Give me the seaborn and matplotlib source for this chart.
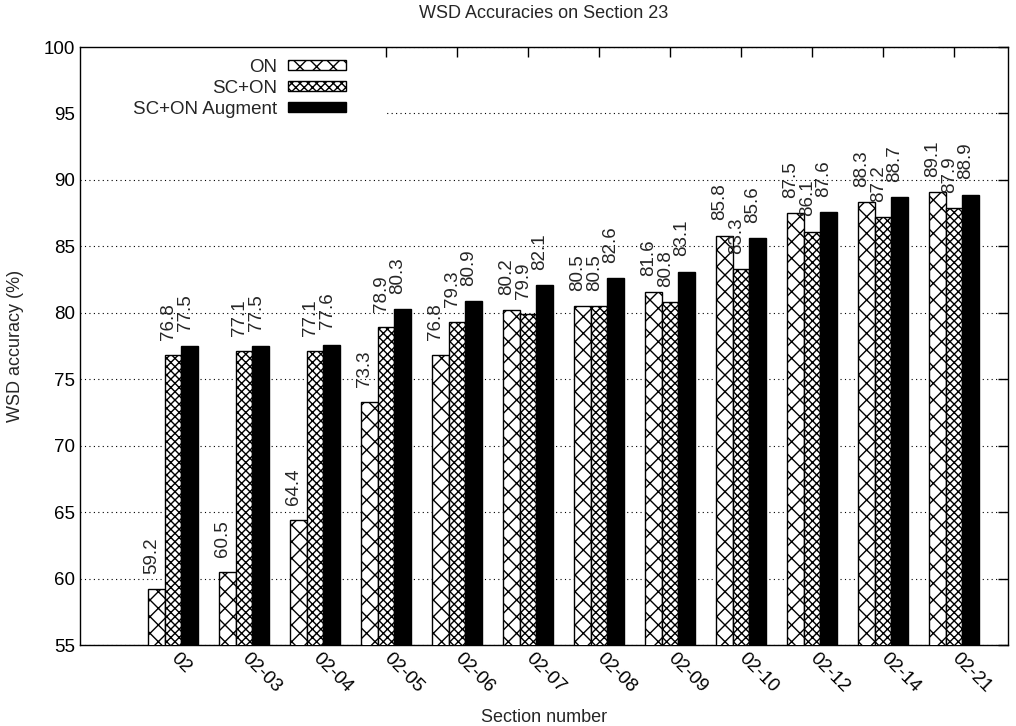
import matplotlib
matplotlib.use("Agg")
import matplotlib.pyplot as plt
from matplotlib.patches import Patch, Rectangle
import seaborn as sns
import pandas as pd

# values
sections = ["02", "02-03", "02-04", "02-05", "02-06", "02-07",
            "02-08", "02-09", "02-10", "02-12", "02-14", "02-21"]
series = ["ON", "SC+ON", "SC+ON Augment"]
on_acc = [59.2, 60.5, 64.4, 73.3, 76.8, 80.2, 80.5, 81.6, 85.8, 87.5, 88.3, 89.1]
sc_on_acc = [76.8, 77.1, 77.1, 78.9, 79.3, 79.9, 80.5, 80.8, 83.3, 86.1, 87.2, 87.9]
aug_acc = [77.5, 77.5, 77.6, 80.3, 80.9, 82.1, 82.6, 83.1, 85.6, 87.6, 88.7, 88.9]
y_ticks = [55, 60, 65, 70, 75, 80, 85, 90, 95, 100]

colors = {"ON": "white", "SC+ON": "white", "SC+ON Augment": "black"}
hatches = {"ON": "xx", "SC+ON": "xxxx", "SC+ON Augment": ""}

df = pd.DataFrame({
    "section": sections * 3,
    "system": [s for s in series for _ in sections],
    "acc": on_acc + sc_on_acc + aug_acc,
})

sns.set_style("white")
plt.rcParams["font.family"] = ["Liberation Sans", "DejaVu Sans"]
plt.rcParams["hatch.linewidth"] = 1.0
plt.rcParams["hatch.color"] = "black"

fig = plt.figure(figsize=(10.16, 7.26), dpi=100)
ax = fig.add_axes([80 / 1016, 81 / 726, 928 / 1016, 598 / 726])

sns.barplot(data=df, x="section", y="acc", hue="system", hue_order=series,
            palette=colors, width=0.7, gap=0, edgecolor="black", linewidth=1,
            legend=False, ax=ax, zorder=3)

for cont, name in zip(ax.containers, series):
    for bar in cont:
        bar.set_hatch(hatches[name])
        x = bar.get_x() + bar.get_width() / 2
        top = bar.get_height()
        ax.annotate(f"{top:.1f}", (x, top), xytext=(0, 11),
                    textcoords="offset points", rotation=90,
                    rotation_mode="anchor", ha="left", va="baseline",
                    fontsize=13.5, zorder=4)

ax.set_ylim(55, 100)
ax.set_xlim(-1.31, 11.76)
ax.set_yticks(y_ticks)
ax.yaxis.grid(True, linestyle=(0, (1, 3)), color="black", linewidth=0.8)
ax.set_axisbelow(True)

# the key area blanks out the grid behind it
ax.add_patch(Rectangle((0, 0.872), 0.329, 0.128, transform=ax.transAxes,
                       facecolor="white", edgecolor="none", zorder=1))

ax.tick_params(axis="both", direction="in", length=7, width=1,
               top=True, right=True, labelsize=13.5, colors="black")
ax.tick_params(axis="x", pad=8)
for lbl in ax.get_xticklabels():
    lbl.set_rotation(-45)
    lbl.set_rotation_mode("anchor")
    lbl.set_ha("left")
    lbl.set_va("center")

for sp in ax.spines.values():
    sp.set_color("black")
    sp.set_linewidth(1)

ax.set_title("WSD Accuracies on Section 23", fontsize=13, pad=21)
ax.set_xlabel("Section number", fontsize=13, labelpad=9)
ax.set_ylabel("WSD accuracy (%)", fontsize=13, labelpad=14)

handles = [Patch(facecolor=colors[s], edgecolor="black", hatch=hatches[s],
                 linewidth=1) for s in series]
leg = ax.legend(handles, series, loc="upper right", markerfirst=False,
                bbox_to_anchor=(0.293, 0.99), borderaxespad=0, borderpad=0.3,
                handlelength=3.1, handleheight=0.4, labelspacing=0.22,
                handletextpad=0.6, fontsize=13.5, frameon=False)
leg.set_zorder(5)

fig.savefig("out.png", dpi=100)
